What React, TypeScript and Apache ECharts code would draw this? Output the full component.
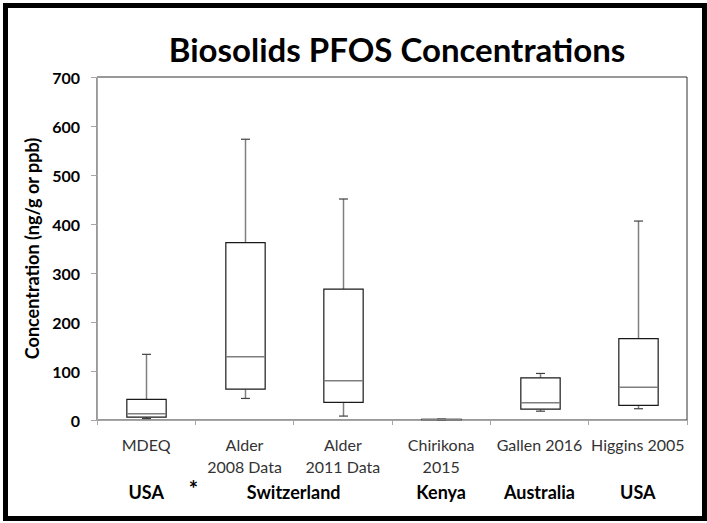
import React, { useEffect, useRef } from "react";
import * as echarts from "echarts";

const categories = ["MDEQ", "Alder\n2008 Data", "Alder\n2011 Data", "Chirikona\n2015", "Gallen 2016", "Higgins 2005"];
const minValues = [3, 44, 8, 0.4, 18, 23];
const q1Values = [6, 63, 36, 0.8, 22, 30];
const medianValues = [13, 129, 80, 1, 35, 67];
const q3Values = [42, 362, 267, 1.4, 86, 166];
const maxValues = [134, 573, 451, 2, 95, 406];
const yTicks = { min: 0, max: 700, interval: 100 };
const countries = ["USA", "*", "Switzerland", "Kenya", "Australia", "USA"];
const countryAt = [0, 0.5, 1.5, 3, 4, 5];

const FONT = "Lato, 'Open Sans', sans-serif";
const GRID = { left: 97, right: 20, top: 77, bottom: 103 };
const W = 707;
const H = 523;

export default function App() {
  const ref = useRef<HTMLDivElement>(null);
  useEffect(() => {
    document.body.style.margin = "0";
    if (!ref.current) return;
    const chart = echarts.init(ref.current, null, { renderer: "svg" });
    const data = categories.map((_, i) => [i, minValues[i], q1Values[i], medianValues[i], q3Values[i], maxValues[i]]);
    const plotW = W - GRID.left - GRID.right;
    const catW = plotW / categories.length;
    const countryTexts = countries.map((c, i) => ({
      type: "text",
      x: GRID.left + (countryAt[i] + 0.5) * catW - (c === "*" ? 2 : 0),
      y: c === "*" ? 488 : 492,
      style: {
        text: c,
        fill: "#000",
        font: `bold ${c === "*" ? 22 : 18}px ${FONT}`,
        textAlign: "center",
        textVerticalAlign: "middle",
      },
    }));
    chart.setOption({
      animation: false,
      backgroundColor: "#fff",
      grid: {
        ...GRID,
        show: true,
        borderColor: "#333",
        borderWidth: 1,
        backgroundColor: "transparent",
      },
      title: {
        text: "Biosolids PFOS Concentrations",
        left: 392,
        top: 44,
        textAlign: "center",
        textVerticalAlign: "middle",
        textStyle: { fontFamily: FONT, fontWeight: "bold", fontSize: 33, color: "#000" },
      },
      xAxis: {
        type: "category",
        data: categories,
        boundaryGap: true,
        axisLine: { show: true, lineStyle: { color: "#a6a6a6", width: 1 } },
        axisTick: { show: true, length: 5, inside: false, lineStyle: { color: "#a6a6a6" } },
        axisLabel: {
          interval: 0,
          margin: 13,
          color: "#333",
          fontSize: 16,
          lineHeight: 22,
          fontFamily: FONT,
        },
        splitLine: { show: false },
      },
      yAxis: {
        type: "value",
        min: yTicks.min,
        max: yTicks.max,
        interval: yTicks.interval,
        name: "Concentration (ng/g or ppb)",
        nameLocation: "middle",
        nameGap: 56,
        nameTextStyle: { fontFamily: FONT, fontWeight: "bold", fontSize: 18, color: "#000" },
        axisLine: { show: true, lineStyle: { color: "#a6a6a6", width: 1 } },
        axisTick: { show: true, length: 6, inside: false, lineStyle: { color: "#a6a6a6" } },
        axisLabel: { margin: 17, color: "#000", fontSize: 16, fontWeight: "bold", fontFamily: FONT },
        splitLine: { show: false },
      },
      series: [
        {
          type: "custom",
          data,
          encode: { x: 0, y: [1, 2, 3, 4, 5] },
          renderItem: (params: any, api: any) => {
            const idx = api.value(0);
            const pMin = api.coord([idx, api.value(1)]);
            const pQ1 = api.coord([idx, api.value(2)]);
            const pMed = api.coord([idx, api.value(3)]);
            const pQ3 = api.coord([idx, api.value(4)]);
            const pMax = api.coord([idx, api.value(5)]);
            const bw = api.size([1, 0])[0] * 0.4;
            const cw = bw * 0.23;
            const x = Math.round(pMed[0]) + 0.5;
            const whisker = { stroke: "#7f7f7f", lineWidth: 1.5 };
            const cap = { stroke: "#404040", lineWidth: 1.2 };
            return {
              type: "group",
              children: [
                { type: "line", shape: { x1: x, y1: pQ3[1], x2: x, y2: pMax[1] }, style: whisker },
                { type: "line", shape: { x1: x, y1: pQ1[1], x2: x, y2: pMin[1] }, style: whisker },
                { type: "line", shape: { x1: x - cw / 2, y1: pMax[1], x2: x + cw / 2, y2: pMax[1] }, style: cap },
                { type: "line", shape: { x1: x - cw / 2, y1: pMin[1], x2: x + cw / 2, y2: pMin[1] }, style: cap },
                {
                  type: "rect",
                  shape: { x: x - bw / 2, y: pQ3[1], width: bw, height: pQ1[1] - pQ3[1] },
                  style: { fill: "#fff", stroke: "#1a1a1a", lineWidth: 1.2 },
                },
                { type: "line", shape: { x1: x - bw / 2, y1: pMed[1], x2: x + bw / 2, y2: pMed[1] }, style: { stroke: "#7f7f7f", lineWidth: 1.5 } },
              ],
            };
          },
        },
      ],
      graphic: [
        {
          type: "rect",
          shape: { x: 5.5, y: 5.5, width: 699, height: 513 },
          style: { fill: "none", stroke: "#000", lineWidth: 5 },
          z: 100,
        },
        ...countryTexts,
      ],
    });
    return () => chart.dispose();
  }, []);
  return <div ref={ref} style={{ width: W, height: H }} />;
}
